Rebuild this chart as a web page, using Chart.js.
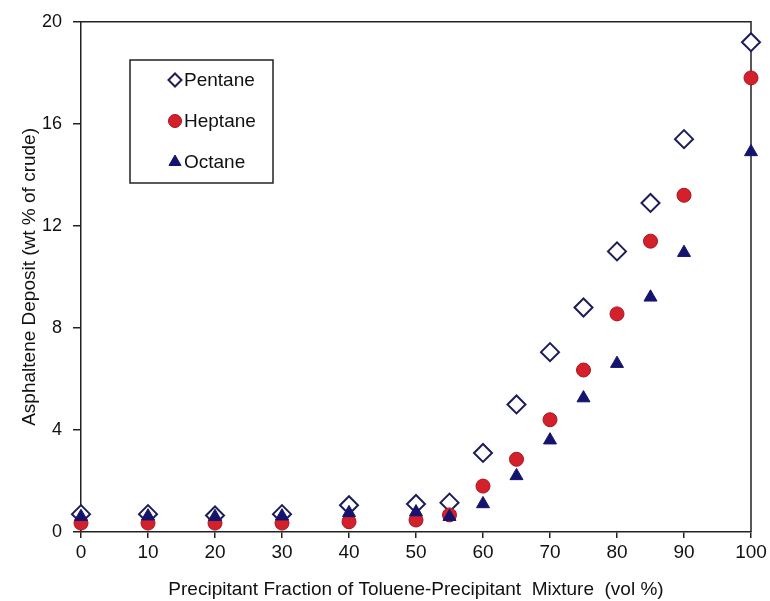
<!DOCTYPE html>
<html>
<head>
<meta charset="utf-8">
<script src="https://cdn.jsdelivr.net/npm/chart.js@4/dist/chart.umd.min.js"></script>
<style>
  html, body { margin: 0; padding: 0; background: #fff; }
  #wrap { width: 770px; height: 601px; }
</style>
</head>
<body>
<div id="wrap"><canvas id="chart"></canvas></div>
<script>
// Data
const fractions = [0, 10, 20, 30, 40, 50, 55, 60, 65, 70, 75, 80, 85, 90, 100];
const pentane = [0.7, 0.7, 0.65, 0.7, 1.05, 1.1, 1.15, 3.1, 5.0, 7.05, 8.8, 11.0, 12.9, 15.4, 19.2];
const heptane = [0.35, 0.35, 0.35, 0.35, 0.4, 0.47, 0.67, 1.8, 2.85, 4.4, 6.35, 8.55, 11.4, 13.2, 17.8];
const octane = [0.6, 0.62, 0.6, 0.62, 0.75, 0.78, 0.6, 1.1, 2.2, 3.6, 5.25, 6.6, 9.2, 10.95, 14.9];
const xTicks = [0, 10, 20, 30, 40, 50, 60, 70, 80, 90, 100];
const yTicks = [0, 4, 8, 12, 16, 20];

const FONT = "'Liberation Sans', Arial, sans-serif";

function toPoints(values) {
    return fractions.map((x, i) => ({ x: x, y: values[i] }));
}

// Frame on top and right of the plot area (under the marks)
const framePlugin = {
    id: 'frame',
    beforeDatasetsDraw(chart) {
        const { ctx, chartArea } = chart;
        ctx.save();
        ctx.strokeStyle = '#222';
        ctx.lineWidth = 1.5;
        ctx.beginPath();
        ctx.moveTo(chartArea.left, chartArea.top);
        ctx.lineTo(chartArea.right, chartArea.top);
        ctx.lineTo(chartArea.right, chartArea.bottom);
        ctx.stroke();
        ctx.restore();
    }
};

// Boxed legend inside the plot area
const boxLegend = {
    id: 'boxLegend',
    afterDraw(chart) {
        const { ctx } = chart;
        const box = { x: 130, y: 60, w: 143, h: 123 };
        ctx.save();
        ctx.fillStyle = '#fff';
        ctx.fillRect(box.x, box.y, box.w, box.h);
        ctx.strokeStyle = '#222';
        ctx.lineWidth = 1.5;
        ctx.strokeRect(box.x, box.y, box.w, box.h);
        ctx.font = '19px ' + FONT;
        ctx.textBaseline = 'middle';
        chart.data.datasets.forEach((ds, i) => {
            const cy = box.y + 20 + i * 41;
            const cx = box.x + 45;
            ctx.fillStyle = ds.backgroundColor;
            ctx.strokeStyle = ds.borderColor;
            ctx.lineWidth = ds.borderWidth;
            Chart.helpers.drawPoint(ctx, { pointStyle: ds.pointStyle, radius: ds.legendRadius, rotation: 0, borderWidth: ds.borderWidth }, cx, cy);
            ctx.fillStyle = '#111';
            ctx.fillText(ds.label, cx + 9, cy + 1);
        });
        ctx.restore();
    }
};

new Chart(document.getElementById('chart'), {
    type: 'scatter',
    data: {
        datasets: [
            {
                label: 'Pentane',
                data: toPoints(pentane),
                pointStyle: 'rectRot',
                pointRadius: 9,
                legendRadius: 6.5,
                backgroundColor: '#ffffff',
                borderColor: '#1c1c58',
                borderWidth: 2,
                clip: false,
                order: 3
            },
            {
                label: 'Heptane',
                data: toPoints(heptane),
                pointStyle: 'circle',
                pointRadius: 7,
                legendRadius: 6.5,
                backgroundColor: '#d4202a',
                borderColor: '#a8141e',
                borderWidth: 1,
                clip: false,
                order: 2
            },
            {
                label: 'Octane',
                data: toPoints(octane),
                pointStyle: 'triangle',
                pointRadius: 7.5,
                legendRadius: 7,
                backgroundColor: '#14146e',
                borderColor: '#14146e',
                borderWidth: 1,
                clip: false,
                order: 1
            }
        ]
    },
    options: {
        responsive: true,
        maintainAspectRatio: false,
        animation: false,
        layout: { padding: { left: 18, right: 19, top: 21, bottom: 0 } },
        plugins: {
            legend: { display: false },
            tooltip: { enabled: false }
        },
        scales: {
            x: {
                type: 'linear',
                min: 0,
                max: 100,
                afterBuildTicks: axis => { axis.ticks = xTicks.map(v => ({ value: v })); },
                afterFit: axis => { axis.height = 69; },
                grid: { drawOnChartArea: false, tickLength: 6, color: '#222', lineWidth: 1.5 },
                border: { color: '#222', width: 1.5 },
                ticks: { color: '#111', font: { family: FONT, size: 19 }, padding: 3, maxRotation: 0 },
                title: {
                    display: true,
                    text: 'Precipitant Fraction of Toluene-Precipitant  Mixture  (vol %)',
                    color: '#111',
                    font: { family: FONT, size: 19 },
                    padding: { top: 0, bottom: 0 }
                }
            },
            y: {
                min: 0,
                max: 20,
                afterBuildTicks: axis => { axis.ticks = yTicks.map(v => ({ value: v })); },
                afterFit: axis => { axis.width = 63; },
                grid: { drawOnChartArea: false, tickLength: 8, color: '#222', lineWidth: 1.5 },
                border: { color: '#222', width: 1.5 },
                ticks: { color: '#111', font: { family: FONT, size: 18 }, padding: 11 },
                title: {
                    display: true,
                    text: 'Asphaltene Deposit (wt % of crude)',
                    color: '#111',
                    font: { family: FONT, size: 19 },
                    padding: { top: 0, bottom: 0 }
                }
            }
        }
    },
    plugins: [framePlugin, boxLegend]
});
</script>
</body>
</html>
